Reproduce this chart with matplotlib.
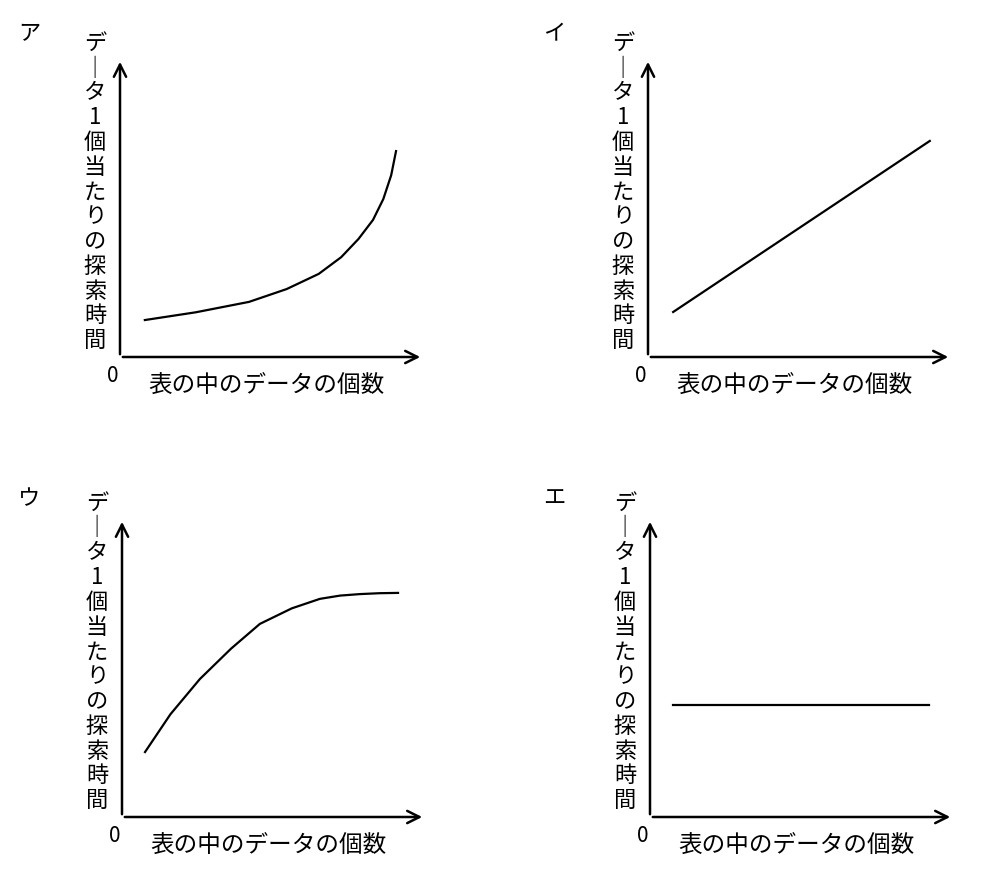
"""Four sketch graphs: search time per item vs. number of items."""

import matplotlib
matplotlib.use("Agg")
import matplotlib.pyplot as plt

plt.rcParams["font.family"] = ["Noto Sans CJK JP", "DejaVu Sans"]

W, H = 1002, 870

PANEL_LABELS = ["ア", "イ", "ウ", "エ"]
X_LABEL = "表の中のデータの個数"
Y_LABEL = "データ1個当たりの探索時間"

# curves in axis units (0..1 along each arrow)
CURVE_A_X = [0.082, 0.25, 0.426, 0.55, 0.656, 0.73, 0.787, 0.835, 0.869, 0.895, 0.911]
CURVE_A_Y = [0.124, 0.150, 0.185, 0.228, 0.279, 0.335, 0.396, 0.460, 0.530, 0.610, 0.691]
CURVE_I_X = [0.083, 0.93]
CURVE_I_Y = [0.151, 0.725]
CURVE_U_X = [0.076, 0.16, 0.257, 0.36, 0.455, 0.56, 0.653, 0.72, 0.785, 0.85, 0.911]
CURVE_U_Y = [0.218, 0.345, 0.463, 0.565, 0.648, 0.700, 0.732, 0.743, 0.748, 0.751, 0.752]
CURVE_E_X = [0.077, 0.92]
CURVE_E_Y = [0.376, 0.376]

CURVES = [
    (CURVE_A_X, CURVE_A_Y),
    (CURVE_I_X, CURVE_I_Y),
    (CURVE_U_X, CURVE_U_Y),
    (CURVE_E_X, CURVE_E_Y),
]

# origin (px), label position (px)
PANELS = [
    ((120, 358), (18, 22)),
    ((648, 358), (543, 22)),
    ((122, 818), (18, 487)),
    ((650, 818), (543, 487)),
]
AX_W, AX_H = 303, 298

fig = plt.figure(figsize=(W / 100, H / 100), dpi=100)


def px(x, y):
    return x / W, 1 - y / H


for (origin, lab), label, (cx, cy) in zip(PANELS, PANEL_LABELS, CURVES):
    ox, oy = origin
    left, bottom = px(ox, oy)
    ax = fig.add_axes([left, bottom, AX_W / W, AX_H / H])
    ax.set_xlim(0, 1)
    ax.set_ylim(0, 1)
    ax.axis("off")
    ax.annotate("", xy=(1.0, 0), xytext=(0, 0),
                arrowprops=dict(arrowstyle="->", lw=1.8, color="black",
                                mutation_scale=22))
    ax.annotate("", xy=(0, 1.0), xytext=(0, 0),
                arrowprops=dict(arrowstyle="->", lw=1.8, color="black",
                                mutation_scale=22))
    ax.plot(cx, cy, color="black", lw=1.6)

    fig.text(*px(*lab), label, fontsize=16, ha="left", va="top")
    fig.text(*px(ox - 7, oy + 18), "0", fontsize=15, ha="center", va="center")
    fig.text(*px(ox + 146, oy + 28), X_LABEL, fontsize=17,
             ha="center", va="center")
    vertical = "\n".join("｜" if ch == "ー" else ch for ch in Y_LABEL)
    fig.text(*px(ox - 25, oy - 166), vertical, fontsize=16,
             ha="center", va="center", linespacing=1.1)

fig.savefig("out.png", dpi=100)
